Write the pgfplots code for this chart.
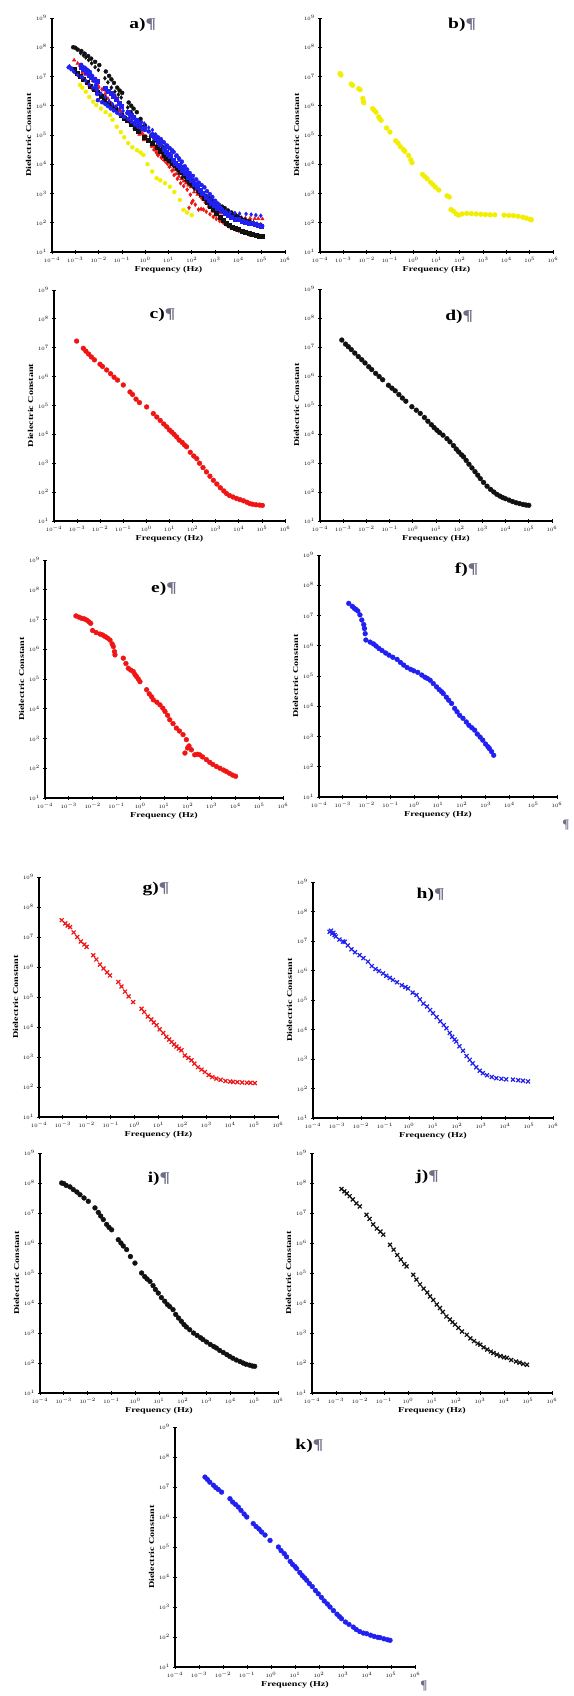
\documentclass[border=0pt]{standalone}
\usepackage{fontspec}
\setmainfont{Liberation Serif}
\usepackage{graphicx}
\usepackage{pgfplots}
\usepackage{pgfplotstable}
\pgfplotsset{compat=1.18}
\definecolor{cYel}{HTML}{F2EE00}
\definecolor{cRed}{HTML}{F01414}
\definecolor{cBlu}{HTML}{2020F0}
\definecolor{cBlk}{HTML}{111111}
\definecolor{cPil}{HTML}{6E6E86}

% values are log10(frequency) and log10(dielectric constant)
\pgfplotstableread{
lx ly
-3.14 7.10
-3.10 7.05
-2.66 6.74
-2.60 6.70
-2.34 6.58
-2.28 6.55
-2.16 6.25
-2.14 6.15
-2.12 6.10
-1.74 5.90
-1.68 5.85
-1.60 5.78
-1.48 5.62
-1.43 5.55
-1.38 5.50
-1.14 5.24
-1.00 5.10
-0.75 4.80
-0.65 4.72
-0.55 4.60
-0.42 4.50
-0.36 4.44
-0.20 4.30
-0.10 4.15
-0.05 4.05
0.40 3.65
0.50 3.58
0.60 3.50
0.75 3.38
0.85 3.30
0.95 3.22
1.10 3.12
1.45 2.92
1.55 2.88
1.62 2.45
1.72 2.40
1.85 2.30
1.95 2.26
2.10 2.30
2.30 2.32
2.50 2.31
2.70 2.30
2.90 2.29
3.10 2.28
3.30 2.27
3.50 2.27
3.90 2.26
4.10 2.25
4.30 2.24
4.50 2.22
4.70 2.19
4.85 2.16
5.00 2.12
5.07 2.10
}\tb
% yellow sample as it appears in the combined panel a)
\pgfplotstableread{
lx ly
-2.80 6.71
-2.70 6.62
-2.55 6.48
-2.40 6.30
-2.23 6.14
-2.10 6.02
-1.90 5.90
-1.70 5.78
-1.51 5.68
-1.40 5.52
-1.22 5.28
-1.05 5.10
-0.90 4.92
-0.73 4.72
-0.55 4.58
-0.35 4.48
-0.20 4.40
-0.08 4.32
0.10 4.00
0.30 3.75
0.49 3.52
0.65 3.45
0.85 3.35
1.06 3.23
1.25 3.05
1.49 2.78
1.64 2.44
1.80 2.35
2.00 2.26
}\tbA
\pgfplotstableread{
lx ly
-3.02 7.23
-2.73 6.98
-2.62 6.88
-2.50 6.78
-2.38 6.68
-2.25 6.58
-2.01 6.43
-1.90 6.35
-1.72 6.23
-1.55 6.10
-1.40 5.98
-1.25 5.88
-1.00 5.71
-0.71 5.47
-0.60 5.38
-0.45 5.22
-0.30 5.10
0.01 4.95
0.30 4.72
0.45 4.60
0.60 4.48
0.75 4.36
0.88 4.26
1.00 4.15
1.10 4.08
1.20 4.00
1.31 3.91
1.42 3.80
1.55 3.72
1.65 3.63
1.74 3.57
1.90 3.38
2.05 3.25
2.18 3.16
2.30 3.00
2.45 2.85
2.60 2.70
2.75 2.55
2.90 2.41
3.05 2.28
3.20 2.15
3.35 2.04
3.47 1.95
3.60 1.88
3.75 1.83
3.90 1.78
4.05 1.74
4.20 1.70
4.35 1.65
4.48 1.60
4.60 1.58
4.75 1.56
4.90 1.55
5.02 1.54
}\tc
\pgfplotstableread{
lx ly
-3.06 7.24
-2.90 7.10
-2.78 7.01
-2.65 6.91
-2.50 6.79
-2.35 6.67
-2.20 6.56
-2.06 6.45
-1.90 6.32
-1.77 6.22
-1.60 6.09
-1.45 5.98
-1.30 5.87
-1.05 5.68
-0.90 5.58
-0.76 5.49
-0.60 5.36
-0.45 5.24
-0.30 5.13
-0.04 4.94
0.15 4.82
0.32 4.71
0.50 4.57
0.65 4.44
0.80 4.32
0.92 4.22
1.04 4.13
1.15 4.05
1.30 3.96
1.47 3.84
1.60 3.73
1.75 3.60
1.87 3.48
1.98 3.38
2.10 3.28
2.19 3.21
2.30 3.09
2.42 2.96
2.55 2.83
2.68 2.70
2.80 2.58
2.91 2.46
3.05 2.33
3.20 2.20
3.35 2.09
3.49 2.00
3.62 1.92
3.75 1.86
3.87 1.81
3.99 1.77
4.15 1.72
4.30 1.67
4.45 1.63
4.60 1.60
4.75 1.57
4.88 1.55
5.00 1.54
}\td
\pgfplotstableread{
lx ly
-2.70 7.12
-2.58 7.08
-2.46 7.04
-2.35 7.02
-2.25 6.98
-2.15 6.92
-2.08 6.87
-2.00 6.63
-1.85 6.56
-1.69 6.51
-1.58 6.48
-1.48 6.43
-1.38 6.38
-1.27 6.31
-1.18 6.18
-1.13 6.09
-1.08 5.92
-1.06 5.81
-0.71 5.70
-0.60 5.52
-0.50 5.36
-0.40 5.30
-0.29 5.25
-0.22 5.15
-0.15 5.08
-0.08 5.00
-0.01 4.91
0.27 4.64
0.38 4.50
0.48 4.40
0.55 4.30
0.70 4.22
0.83 4.13
0.95 4.02
1.04 3.91
1.15 3.78
1.24 3.63
1.38 3.50
1.52 3.35
1.65 3.25
1.80 3.13
1.94 2.96
1.99 2.68
1.88 2.51
2.05 2.75
2.15 2.62
2.29 2.45
2.40 2.47
2.50 2.45
2.62 2.38
2.78 2.29
2.92 2.20
3.05 2.13
3.20 2.06
3.35 2.00
3.50 1.94
3.62 1.89
3.75 1.83
3.88 1.77
4.01 1.73
}\te
\pgfplotstableread{
lx ly
-2.75 7.40
-2.60 7.30
-2.52 7.24
-2.45 7.20
-2.37 7.15
-2.28 7.02
-2.20 6.85
-2.12 6.70
-2.09 6.57
-2.06 6.40
-2.03 6.19
-1.85 6.12
-1.71 6.06
-1.60 5.99
-1.48 5.91
-1.35 5.84
-1.20 5.76
-1.06 5.69
-0.90 5.62
-0.72 5.55
-0.58 5.45
-0.44 5.36
-0.30 5.28
-0.15 5.22
-0.02 5.17
0.15 5.12
0.32 5.03
0.45 4.96
0.55 4.92
0.67 4.86
0.80 4.75
0.94 4.64
1.05 4.55
1.15 4.48
1.22 4.42
1.35 4.30
1.45 4.20
1.57 4.09
1.70 3.93
1.80 3.82
1.91 3.70
2.05 3.60
2.19 3.48
2.30 3.37
2.42 3.29
2.54 3.21
2.65 3.08
2.77 2.98
2.88 2.88
3.00 2.75
3.10 2.66
3.16 2.60
3.25 2.50
3.34 2.38
}\tf
\pgfplotstableread{
lx ly
-3.05 7.56
-2.90 7.45
-2.80 7.38
-2.70 7.33
-2.55 7.15
-2.40 7.00
-2.25 6.85
-2.10 6.75
-2.01 6.67
-1.73 6.39
-1.60 6.25
-1.45 6.08
-1.30 5.95
-1.15 5.82
-1.03 5.72
-0.68 5.50
-0.55 5.35
-0.40 5.18
-0.25 5.02
-0.06 4.83
0.29 4.61
0.40 4.50
0.55 4.35
0.70 4.25
0.80 4.15
0.92 4.06
1.05 3.92
1.20 3.80
1.33 3.67
1.45 3.58
1.55 3.50
1.65 3.42
1.75 3.35
1.85 3.28
1.96 3.22
2.10 3.05
2.25 2.97
2.38 2.89
2.50 2.78
2.65 2.66
2.80 2.58
2.94 2.50
3.10 2.40
3.25 2.33
3.42 2.28
3.60 2.24
3.80 2.20
4.00 2.18
4.12 2.17
4.30 2.16
4.50 2.15
4.70 2.14
4.85 2.14
5.03 2.13
}\tg
\pgfplotstableread{
lx ly
-3.31 7.31
-3.25 7.35
-3.20 7.25
-3.15 7.28
-3.10 7.20
-3.05 7.15
-2.90 7.05
-2.75 6.98
-2.68 6.97
-2.55 6.85
-2.40 6.72
-2.25 6.62
-2.06 6.52
-1.90 6.42
-1.71 6.30
-1.55 6.15
-1.40 6.05
-1.25 5.98
-1.08 5.90
-0.95 5.82
-0.80 5.75
-0.67 5.68
-0.50 5.60
-0.30 5.50
-0.15 5.44
-0.04 5.39
0.15 5.25
0.31 5.17
0.45 5.02
0.60 4.88
0.75 4.78
0.88 4.66
1.00 4.55
1.15 4.42
1.30 4.28
1.45 4.15
1.56 4.04
1.70 3.88
1.80 3.75
1.90 3.66
1.97 3.59
2.10 3.43
2.25 3.28
2.40 3.10
2.53 2.97
2.65 2.85
2.80 2.72
2.95 2.60
3.08 2.52
3.25 2.45
3.45 2.39
3.64 2.35
3.85 2.33
4.05 2.31
4.33 2.30
4.55 2.28
4.75 2.26
4.96 2.24
}\th
\pgfplotstableread{
lx ly
-3.09 8.00
-3.00 7.98
-2.90 7.92
-2.74 7.87
-2.60 7.78
-2.45 7.70
-2.32 7.61
-2.15 7.50
-1.97 7.39
-1.69 7.17
-1.55 7.02
-1.45 6.90
-1.34 6.78
-1.20 6.62
-1.10 6.52
-0.99 6.44
-0.71 6.11
-0.60 6.00
-0.50 5.90
-0.36 5.78
-0.20 5.55
-0.01 5.33
0.27 5.00
0.40 4.88
0.50 4.80
0.62 4.72
0.75 4.58
0.85 4.45
0.97 4.33
1.10 4.18
1.24 4.06
1.35 3.95
1.45 3.88
1.59 3.78
1.70 3.62
1.82 3.50
1.94 3.39
2.05 3.28
2.15 3.20
2.29 3.11
2.45 3.00
2.60 2.92
2.75 2.84
2.85 2.78
3.00 2.70
3.15 2.62
3.30 2.55
3.41 2.50
3.55 2.42
3.70 2.35
3.85 2.28
3.97 2.22
4.10 2.16
4.25 2.10
4.40 2.05
4.53 2.00
4.65 1.96
4.80 1.93
4.92 1.90
5.02 1.89
}\ti
\pgfplotstableread{
lx ly
-2.77 7.80
-2.65 7.72
-2.55 7.65
-2.43 7.56
-2.30 7.45
-2.15 7.32
-2.01 7.22
-1.73 6.94
-1.60 6.80
-1.45 6.62
-1.30 6.48
-1.15 6.38
-1.03 6.28
-0.75 5.94
-0.60 5.78
-0.45 5.60
-0.30 5.45
-0.15 5.30
-0.06 5.22
0.22 4.94
0.35 4.78
0.50 4.62
0.65 4.48
0.80 4.35
0.92 4.22
1.05 4.10
1.20 3.95
1.33 3.83
1.45 3.70
1.60 3.55
1.75 3.45
1.85 3.36
1.96 3.28
2.10 3.17
2.25 3.05
2.45 2.94
2.60 2.82
2.75 2.73
2.90 2.65
3.01 2.61
3.15 2.52
3.30 2.45
3.45 2.38
3.56 2.33
3.70 2.28
3.85 2.23
4.00 2.19
4.12 2.17
4.30 2.10
4.50 2.05
4.65 2.01
4.80 1.97
4.96 1.94
}\tj
\pgfplotstableread{
lx ly
-2.75 7.33
-2.65 7.25
-2.55 7.16
-2.40 7.06
-2.30 6.98
-2.20 6.92
-2.06 6.83
-1.71 6.61
-1.60 6.50
-1.48 6.42
-1.36 6.33
-1.25 6.22
-1.12 6.10
-1.01 6.00
-0.74 5.78
-0.62 5.68
-0.50 5.60
-0.39 5.50
-0.25 5.40
-0.04 5.22
0.31 5.00
0.42 4.88
0.55 4.78
0.65 4.67
0.80 4.52
0.90 4.42
1.00 4.35
1.07 4.28
1.20 4.15
1.30 4.05
1.40 3.97
1.49 3.89
1.60 3.78
1.72 3.68
1.85 3.55
1.97 3.44
2.10 3.32
2.22 3.20
2.35 3.10
2.46 3.00
2.60 2.88
2.75 2.76
2.85 2.68
2.94 2.61
3.10 2.50
3.25 2.42
3.43 2.33
3.55 2.25
3.70 2.18
3.85 2.13
3.99 2.11
4.15 2.06
4.30 2.02
4.45 1.99
4.54 1.98
4.70 1.94
4.85 1.91
4.96 1.89
}\tk

\pgfplotsset{
  panel/.style={
    anchor=south west, scale only axis,
    xmin=1e-4, xmax=1e6, ymin=1e1, ymax=1e9,
    xtick={1e-4,1e-3,1e-2,1e-1,1,1e1,1e2,1e3,1e4,1e5,1e6},
    ytick={1e1,1e2,1e3,1e4,1e5,1e6,1e7,1e8,1e9},
    xminorticks=false,
    axis x line*=bottom, axis y line*=left,
    axis line style={line width=1.4pt},
    tick align=center, major tick length=3.5pt, minor tick length=2pt,
    tick style={black, line width=0.8pt},
    tick label style={font=\fontsize{4.5}{5}\selectfont},
    xlabel={\scalebox{1.35}[1]{Frequency (Hz)}},
    ylabel={\scalebox{1.35}[1]{Dielectric Constant}},
    label style={font=\bfseries\fontsize{7.5}{8}\selectfont},
    xlabel style={yshift=3pt}, ylabel style={yshift=-2pt},
  },
  dots/.style={only marks, mark=*, mark size=2.4pt, draw=#1, fill=#1},
  crosses/.style={only marks, mark=x, mark size=2.8pt, line width=1.2pt, draw=#1},
}
\tikzset{tag/.style={font=\bfseries\fontsize{15}{15}\selectfont}}
\newcommand\lp[2]{\addplot[#1] table[x expr={10^(\thisrow{lx})}, y expr={10^(\thisrow{ly})}] {#2};}
\newcommand\tagnode[3]{\node[tag] at (rel axis cs:#1,#2) {\scalebox{1.3}[1]{#3\textcolor{cPil}{¶}}};}

\begin{document}
\begin{tikzpicture}
\useasboundingbox (0,0) rectangle (573pt,1696pt);

% a) all samples together
\begin{loglogaxis}[panel, at={(52pt,1444pt)}, width=233pt, height=234pt]
\lp{dots=cYel, mark size=2pt}{\tbA}
\lp{dots=cRed, mark size=2pt}{\tc}
\lp{dots=cRed, mark=diamond*, mark size=2pt}{\te}
\lp{dots=cRed, mark=triangle*, mark size=2pt}{\tg}
\lp{dots=cBlk, mark=square*, mark size=2pt}{\td}
\lp{dots=cBlk, mark size=2pt}{\ti}
\lp{dots=cBlk, mark=diamond*, mark size=2pt}{\tj}
\lp{dots=cBlu, mark size=2pt}{\tf}
\lp{dots=cBlu, mark=diamond*, mark size=2pt}{\th}
\lp{dots=cBlu, mark=square*, mark size=2pt}{\tk}
\tagnode{0.39}{0.97}{a)}
\end{loglogaxis}

\begin{loglogaxis}[panel, at={(320pt,1444pt)}, width=233pt, height=234pt]
\lp{dots=cYel}{\tb}
\tagnode{0.61}{0.97}{b)}
\end{loglogaxis}

\begin{loglogaxis}[panel, at={(54pt,1175pt)}, width=231pt, height=231pt]
\lp{dots=cRed}{\tc}
\tagnode{0.47}{0.89}{c)}
\end{loglogaxis}

\begin{loglogaxis}[panel, at={(320pt,1175pt)}, width=232pt, height=232pt]
\lp{dots=cBlk}{\td}
\tagnode{0.6}{0.88}{d)}
\end{loglogaxis}

\begin{loglogaxis}[panel, at={(45pt,898pt)}, width=238pt, height=238pt]
\lp{dots=cRed}{\te}
\tagnode{0.5}{0.88}{e)}
\end{loglogaxis}

\begin{loglogaxis}[panel, at={(319pt,899pt)}, width=238pt, height=242pt]
\lp{dots=cBlu}{\tf}
\tagnode{0.62}{0.94}{f)}
\end{loglogaxis}

\begin{loglogaxis}[panel, at={(39pt,579pt)}, width=239pt, height=240pt]
\lp{crosses=cRed}{\tg}
\tagnode{0.49}{0.95}{g)}
\end{loglogaxis}

\begin{loglogaxis}[panel, at={(313pt,578pt)}, width=240pt, height=236pt]
\lp{crosses=cBlu}{\th}
\tagnode{0.49}{0.945}{h)}
\end{loglogaxis}

\begin{loglogaxis}[panel, at={(40pt,303pt)}, width=238pt, height=240pt]
\lp{dots=cBlk}{\ti}
\tagnode{0.5}{0.89}{i)}
\end{loglogaxis}

\begin{loglogaxis}[panel, at={(312pt,303pt)}, width=240pt, height=240pt]
\lp{crosses=cBlk}{\tj}
\tagnode{0.48}{0.9}{j)}
\end{loglogaxis}

\begin{loglogaxis}[panel, at={(175pt,29pt)}, width=240pt, height=240pt]
\lp{dots=cBlu}{\tk}
\tagnode{0.56}{0.92}{k)}
\end{loglogaxis}

\node[font=\bfseries\fontsize{13}{13}\selectfont, text=cPil] at (566pt,871pt) {¶};
\node[font=\bfseries\fontsize{13}{13}\selectfont, text=cPil] at (424pt,10pt) {¶};
\end{tikzpicture}
\end{document}
